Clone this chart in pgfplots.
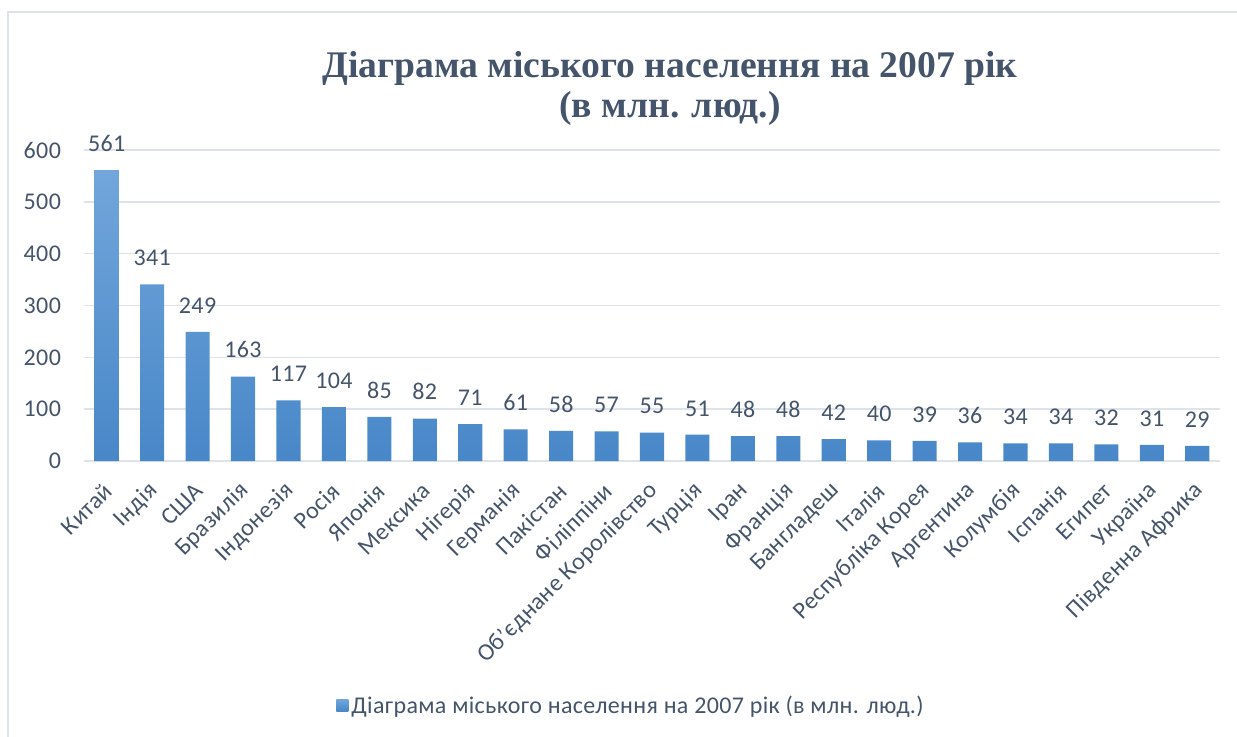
\documentclass[border=0pt]{standalone}
\usepackage{pgfplots}
\pgfplotsset{compat=1.18}
\usepackage{fontspec}
\setmainfont{Carlito}[LetterSpace=1.5]
\newfontfamily\titlefont{Liberation Serif}
\definecolor{txt}{HTML}{44546A}
\definecolor{gridc}{HTML}{DEE3EA}
\definecolor{bartop}{RGB}{114,166,219}
\definecolor{barbot}{RGB}{72,135,200}

\begin{document}
\begin{tikzpicture}[x=0.5pt,y=0.5pt]
\path[use as bounding box] (0,0) rectangle (1237,736);
\draw[gridc, line width=1pt] (7.5,-5) -- (7.5,724) -- (1245,724);
\node[font=\titlefont\bfseries\fontsize{18.8}{20}\selectfont, text=txt, align=center] at (670,648) {Діаграма міського населення на 2007 рік\\(в млн. люд.)};
\begin{axis}[
  at={(42pt,137.5pt)}, anchor=south west,
  scale only axis, width=568pt, height=155.5pt,
  xmin=-0.5, xmax=24.5, ymin=0, ymax=600,
  ytick={0,100,...,600},
  xtick={0,...,24},
  xticklabels={Китай,Індія,США,Бразилія,Індонезія,Росія,Японія,Мексика,Нігерія,Германія,Пакістан,Філіппіни,Об’єднане Королівство,Турція,Іран,Франція,Бангладеш,Італія,Республіка Корея,Аргентина,Колумбія,Іспанія,Египет,Україна,Південна Африка},
  /pgf/number format/assume math mode=true,
  axis line style={draw=none},
  major tick length=0pt,
  ymajorgrids,
  major grid style={gridc, line width=0.7pt},
  tick label style={font=\fontsize{12}{14}\selectfont, text=txt},
  yticklabel style={xshift=-8pt},
  xticklabel style={xshift=1pt, yshift=-13pt, rotate=45, anchor=east, inner sep=0pt},
  legend style={at={(0.482,-0.788)}, anchor=center, draw=none, fill=none,
    font=\fontsize{12}{14}\selectfont, text=txt, nodes={inner sep=1.5pt}},
  legend image code/.code={\shade[top color=bartop, bottom color=barbot] (0pt,-2.5pt) rectangle (6pt,3.5pt);},
]
\addplot[ybar, bar width=0.53, draw=none, top color=bartop, bottom color=barbot,
  nodes near coords,
  every node near coord/.append style={font=\fontsize{12}{14}\selectfont, text=txt, anchor=south, inner sep=0pt, yshift=9pt}]
coordinates {
(0,561) (1,341) (2,249) (3,163) (4,117) (5,104) (6,85) (7,82) (8,71) (9,61)
(10,58) (11,57) (12,55) (13,51) (14,48) (15,48) (16,42) (17,40) (18,39) (19,36)
(20,34) (21,34) (22,32) (23,31) (24,29)
};
\addlegendentry{Діаграма міського населення на 2007 рік (в млн. люд.)}
\end{axis}
\end{tikzpicture}
\end{document}
